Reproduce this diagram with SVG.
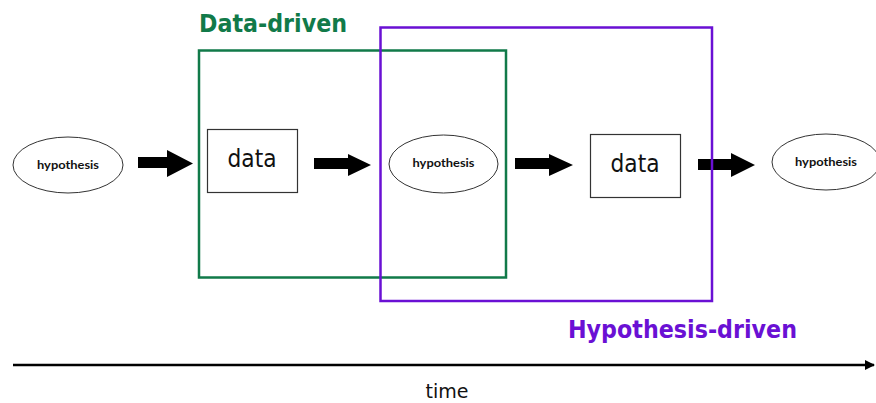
<svg xmlns="http://www.w3.org/2000/svg" width="876" height="403" viewBox="0 0 876 403">
  <style>
    .hyp { fill: #ffffff; stroke: #333333; stroke-width: 1; }
    .hyp-text { font-family: "Lato", "DejaVu Sans", sans-serif; font-weight: bold; font-size: 12px; fill: #111111; text-anchor: middle; }
    .box { fill: #ffffff; stroke: #333333; stroke-width: 1.2; }
    .box-text { font-family: "DejaVu Sans", "Liberation Sans", sans-serif; font-size: 24px; fill: #111111; text-anchor: middle; }
    .block-arrow { fill: #000000; }
    .frame-green { fill: none; stroke: #117a49; stroke-width: 2.5; }
    .frame-purple { fill: none; stroke: #6a10d4; stroke-width: 2.5; }
    .title { font-family: "DejaVu Sans", "Liberation Sans", sans-serif; font-weight: bold; font-size: 24.5px; }
    .axis { stroke: #000000; stroke-width: 2.5; fill: none; }
    .axis-label { font-family: "DejaVu Sans", "Liberation Sans", sans-serif; font-size: 20px; fill: #111111; text-anchor: middle; }
  </style>
  <defs>
    <marker id="axisHead" viewBox="0 0 10 10" refX="9" refY="5" markerWidth="4" markerHeight="4" orient="auto" markerUnits="strokeWidth">
      <path d="M0,0 L10,5 L0,10 Z" fill="#000000"/>
    </marker>
  </defs>

  <rect width="876" height="403" fill="#ffffff"/>

  <!-- nodes -->
  <g id="hypothesis-1">
    <ellipse class="hyp" cx="68" cy="165" rx="55" ry="28"/>
    <text class="hyp-text" x="68" y="169" textLength="62" lengthAdjust="spacingAndGlyphs">hypothesis</text>
  </g>
  <g id="data-1">
    <rect class="box" x="207.5" y="129.5" width="90" height="63"/>
    <text class="box-text" x="252" y="167" textLength="49" lengthAdjust="spacingAndGlyphs">data</text>
  </g>
  <g id="hypothesis-2">
    <ellipse class="hyp" cx="443.5" cy="164" rx="54.5" ry="29"/>
    <text class="hyp-text" x="443.5" y="167" textLength="62" lengthAdjust="spacingAndGlyphs">hypothesis</text>
  </g>
  <g id="data-2">
    <rect class="box" x="590.5" y="134.5" width="90" height="63"/>
    <text class="box-text" x="635" y="172" textLength="49" lengthAdjust="spacingAndGlyphs">data</text>
  </g>
  <g id="hypothesis-3">
    <ellipse class="hyp" cx="826" cy="162" rx="54" ry="28"/>
    <text class="hyp-text" x="826" y="166" textLength="62" lengthAdjust="spacingAndGlyphs">hypothesis</text>
  </g>

  <!-- connectors -->
  <g id="connectors">
    <polygon class="block-arrow" points="138,157 167,157 167,150 193,163.5 167,177 167,168 138,168"/>
    <polygon class="block-arrow" points="314,158 348,158 348,154 371,165 348,176 348,169 314,169"/>
    <polygon class="block-arrow" points="515,158 549,158 549,154 573,165 549,176 549,169 515,169"/>
    <polygon class="block-arrow" points="698,159 731,159 731,153 755,165 731,177 731,170 698,170"/>
  </g>

  <!-- grouping frames -->
  <g id="data-driven">
    <rect class="frame-green" x="199" y="50.5" width="307" height="227"/>
    <text class="title" x="199" y="32" fill="#117a49" textLength="148" lengthAdjust="spacingAndGlyphs">Data-driven</text>
  </g>
  <g id="hypothesis-driven">
    <rect class="frame-purple" x="380.5" y="27.5" width="331.5" height="273.5"/>
    <text class="title" x="568" y="338" fill="#6a10d4" textLength="229" lengthAdjust="spacingAndGlyphs">Hypothesis-driven</text>
  </g>

  <!-- time axis -->
  <g id="time-axis">
    <line class="axis" x1="13" y1="365" x2="874" y2="365" marker-end="url(#axisHead)"/>
    <text class="axis-label" x="447" y="398" textLength="43" lengthAdjust="spacingAndGlyphs">time</text>
  </g>
</svg>
